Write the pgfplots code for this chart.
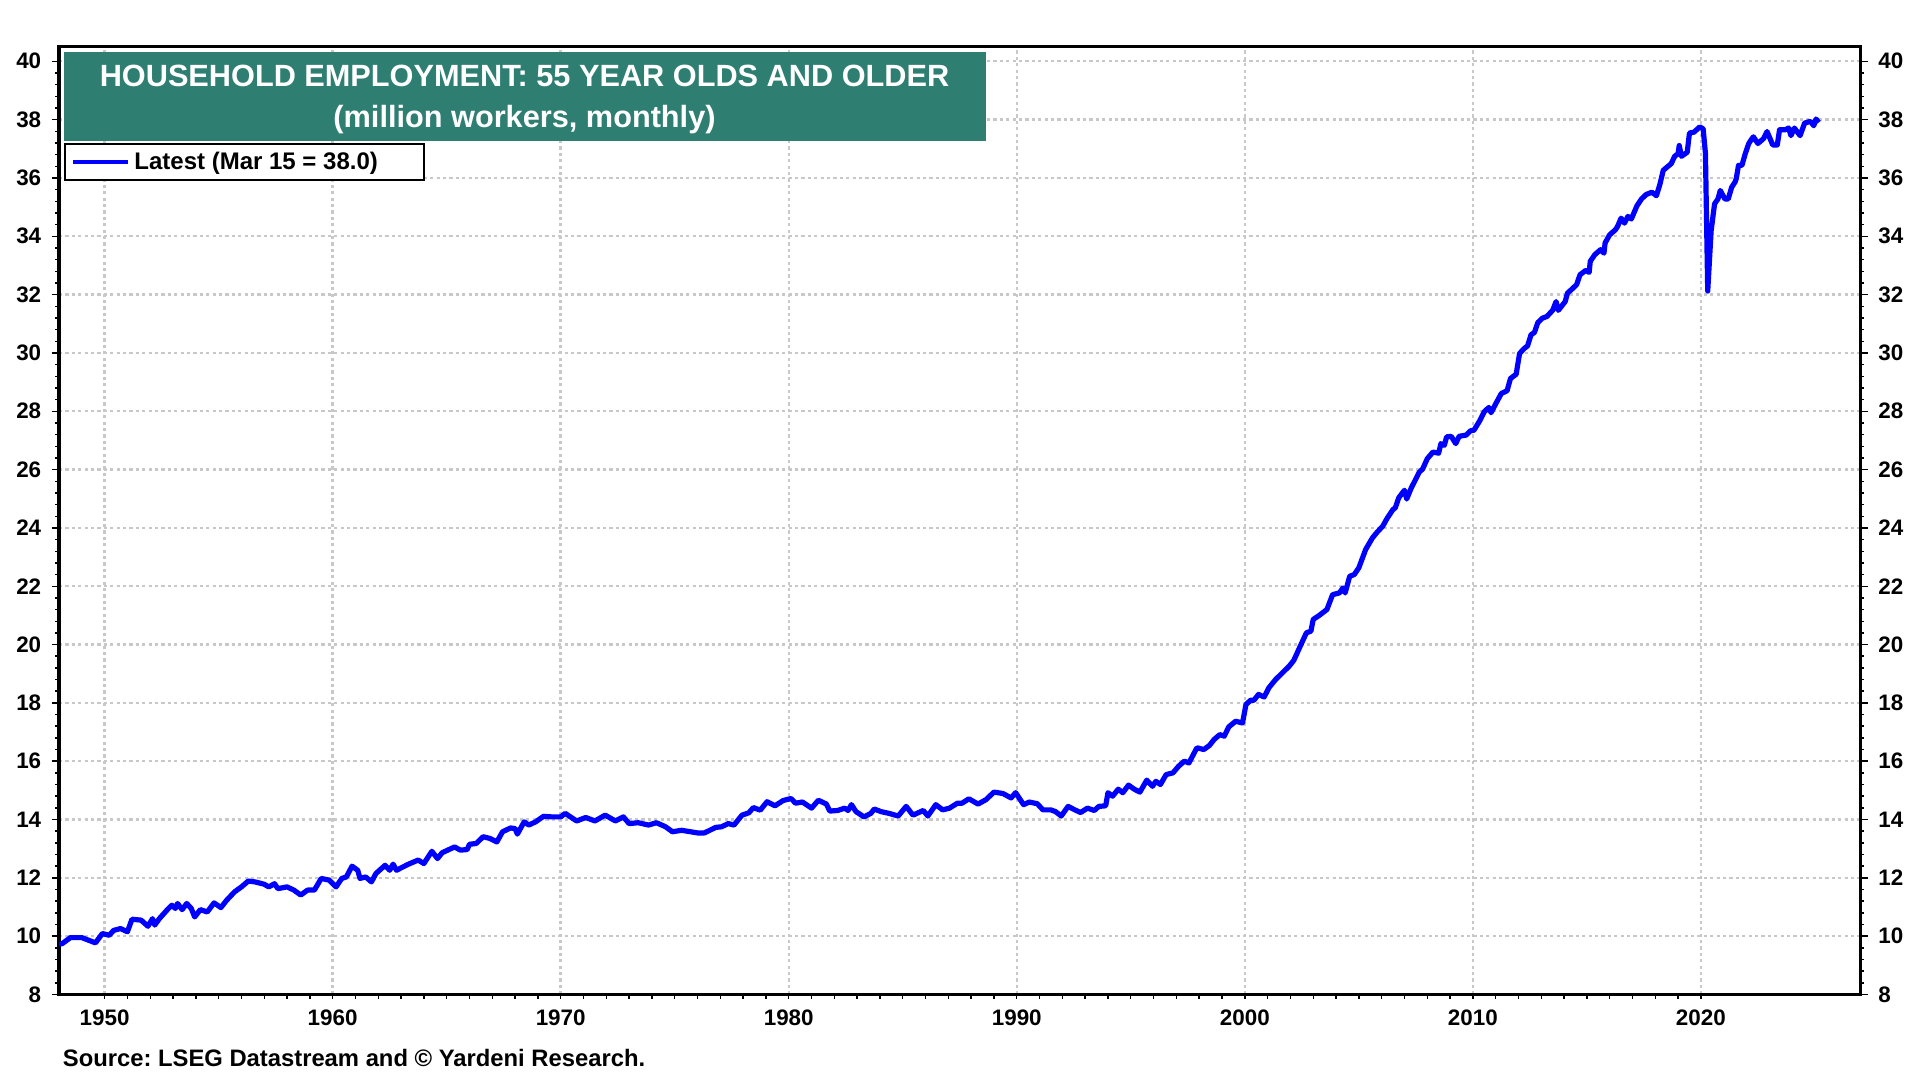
\documentclass[border=0pt]{standalone}
\usepackage{pgfplots}
\usepackage{pgfplotstable}
\pgfplotsset{compat=1.18}
\usepackage{fontspec}
\setmainfont{Liberation Sans}
\frenchspacing
\definecolor{titleteal}{RGB}{46,126,114}
\definecolor{gridgray}{RGB}{200,200,200}
\definecolor{lineblue}{RGB}{0,0,255}

\pgfplotstableread{
x y
1948.0 9.72
1948.15 9.75
1948.5 9.95
1949.0 9.95
1949.3 9.86
1949.6 9.77
1949.9 10.09
1950.2 10.03
1950.4 10.2
1950.7 10.26
1951.0 10.15
1951.2 10.58
1951.6 10.55
1951.9 10.34
1952.1 10.6
1952.2 10.38
1952.4 10.6
1952.8 10.95
1952.95 11.06
1953.1 10.95
1953.2 11.12
1953.4 10.91
1953.6 11.12
1953.8 10.95
1953.95 10.66
1954.2 10.91
1954.5 10.83
1954.8 11.14
1955.1 10.98
1955.35 11.23
1955.7 11.52
1956.0 11.69
1956.3 11.89
1956.6 11.86
1957.0 11.78
1957.2 11.69
1957.45 11.8
1957.6 11.63
1958.0 11.69
1958.3 11.58
1958.6 11.41
1958.9 11.58
1959.2 11.58
1959.5 11.98
1959.85 11.92
1960.15 11.69
1960.4 11.98
1960.6 12.03
1960.85 12.4
1961.1 12.26
1961.2 11.98
1961.45 12.03
1961.7 11.86
1961.9 12.15
1962.3 12.43
1962.5 12.26
1962.65 12.47
1962.8 12.26
1963.3 12.46
1963.75 12.61
1964.0 12.49
1964.35 12.91
1964.6 12.66
1964.8 12.86
1965.1 12.97
1965.35 13.06
1965.6 12.95
1965.9 12.97
1966.0 13.15
1966.3 13.18
1966.6 13.41
1966.9 13.35
1967.2 13.23
1967.45 13.58
1967.8 13.71
1968.0 13.69
1968.1 13.5
1968.4 13.92
1968.6 13.81
1968.9 13.92
1969.25 14.11
1969.6 14.09
1970.0 14.09
1970.2 14.21
1970.7 13.95
1971.1 14.07
1971.5 13.95
1971.95 14.15
1972.4 13.95
1972.75 14.09
1973.0 13.86
1973.4 13.89
1973.85 13.81
1974.2 13.89
1974.6 13.75
1974.9 13.58
1975.3 13.63
1975.7 13.58
1976.0 13.54
1976.3 13.54
1976.8 13.73
1977.05 13.75
1977.35 13.86
1977.6 13.81
1977.95 14.15
1978.25 14.23
1978.45 14.41
1978.75 14.32
1979.05 14.61
1979.4 14.47
1979.75 14.65
1980.1 14.72
1980.3 14.56
1980.6 14.6
1981.0 14.39
1981.3 14.66
1981.65 14.53
1981.8 14.29
1982.15 14.31
1982.45 14.39
1982.6 14.31
1982.75 14.51
1982.95 14.27
1983.3 14.09
1983.6 14.21
1983.75 14.36
1984.05 14.27
1984.4 14.21
1984.8 14.12
1985.15 14.45
1985.45 14.15
1985.9 14.31
1986.1 14.12
1986.45 14.51
1986.75 14.33
1987.05 14.39
1987.4 14.56
1987.6 14.56
1987.9 14.71
1988.3 14.53
1988.65 14.68
1989.0 14.94
1989.4 14.89
1989.75 14.74
1989.95 14.92
1990.3 14.51
1990.55 14.6
1990.9 14.54
1991.15 14.33
1991.5 14.33
1991.7 14.27
1991.95 14.12
1992.25 14.45
1992.55 14.33
1992.8 14.24
1993.1 14.39
1993.4 14.31
1993.6 14.45
1993.9 14.47
1994.0 14.92
1994.2 14.8
1994.45 15.04
1994.65 14.92
1994.9 15.18
1995.15 15.04
1995.4 14.94
1995.7 15.35
1995.95 15.14
1996.1 15.31
1996.3 15.2
1996.55 15.54
1996.85 15.6
1997.1 15.83
1997.35 16.0
1997.55 15.94
1997.9 16.46
1998.2 16.4
1998.45 16.54
1998.65 16.74
1998.9 16.91
1999.1 16.86
1999.3 17.18
1999.6 17.37
1999.9 17.31
2000.05 17.94
2000.25 18.09
2000.4 18.09
2000.6 18.29
2000.85 18.2
2001.05 18.51
2001.35 18.8
2001.65 19.03
2001.95 19.26
2002.15 19.46
2002.4 19.89
2002.7 20.4
2002.9 20.46
2003.0 20.86
2003.25 20.99
2003.6 21.2
2003.85 21.71
2004.15 21.77
2004.3 21.94
2004.4 21.77
2004.6 22.34
2004.8 22.4
2005.0 22.63
2005.3 23.26
2005.6 23.66
2005.8 23.85
2006.05 24.06
2006.25 24.34
2006.5 24.63
2006.6 24.69
2006.75 25.03
2007.0 25.29
2007.1 24.99
2007.3 25.37
2007.45 25.6
2007.65 25.91
2007.8 26.02
2008.0 26.37
2008.25 26.6
2008.5 26.56
2008.6 26.89
2008.75 26.83
2008.85 27.12
2009.05 27.14
2009.25 26.89
2009.4 27.14
2009.7 27.18
2009.9 27.33
2010.05 27.35
2010.3 27.67
2010.5 27.98
2010.7 28.13
2010.8 27.95
2011.0 28.25
2011.25 28.61
2011.5 28.7
2011.65 29.12
2011.9 29.27
2012.05 29.98
2012.25 30.15
2012.4 30.24
2012.55 30.62
2012.7 30.7
2012.85 31.04
2013.05 31.19
2013.25 31.25
2013.5 31.46
2013.65 31.76
2013.75 31.46
2014.05 31.76
2014.15 32.05
2014.35 32.19
2014.55 32.34
2014.7 32.68
2014.95 32.83
2015.1 32.76
2015.15 33.14
2015.35 33.37
2015.6 33.54
2015.75 33.42
2015.8 33.77
2016.0 34.05
2016.25 34.22
2016.35 34.34
2016.5 34.62
2016.65 34.45
2016.8 34.68
2016.95 34.59
2017.2 35.05
2017.4 35.28
2017.6 35.43
2017.85 35.51
2018.05 35.39
2018.2 35.77
2018.35 36.26
2018.5 36.36
2018.7 36.49
2018.85 36.74
2019.0 36.83
2019.05 37.11
2019.15 36.74
2019.4 36.88
2019.5 37.54
2019.7 37.57
2019.95 37.75
2020.1 37.68
2020.2 36.84
2020.3 32.12
2020.45 34.19
2020.6 35.11
2020.75 35.28
2020.85 35.57
2021.05 35.28
2021.2 35.28
2021.35 35.68
2021.5 35.86
2021.55 35.97
2021.65 36.43
2021.8 36.43
2021.95 36.84
2022.1 37.18
2022.2 37.3
2022.3 37.41
2022.5 37.18
2022.75 37.35
2022.9 37.59
2023.0 37.41
2023.15 37.13
2023.35 37.13
2023.45 37.65
2023.7 37.65
2023.85 37.71
2023.95 37.45
2024.1 37.71
2024.35 37.45
2024.55 37.88
2024.8 37.94
2024.95 37.79
2025.05 38.02
2025.17 37.9
}\datatable

\pgfplotsset{
  commonaxis/.style={
    at={(29.5pt,42.75pt)}, anchor=south west,
    width=900.75pt, height=473.9pt, scale only axis,
    xmin=1948, xmax=2027, ymin=8, ymax=40.5,
    tick align=outside,
    ticklabel style={font=\bfseries\fontsize{11.2}{13}\selectfont},
    /pgf/number format/assume math mode=true,
    /pgf/number format/1000 sep={},
  }
}

\begin{document}
\begin{tikzpicture}
\path[use as bounding box, fill=white] (0,0) rectangle (960pt,540pt);

% main axis: grid, data, x ticks
\begin{axis}[
  commonaxis,
  axis line style={line width=1.7pt},
  xtick={1950,1960,...,2020}, minor x tick num=9,
  xtick pos=bottom,
  major tick length=2.2pt, minor tick length=2.2pt,
  every tick/.style={black, line width=0.7pt},
  xticklabel style={anchor=north, inner sep=0pt, yshift=-5.5pt},
  ytick={8,10,...,40}, yticklabels={}, ytick style={draw=none},
  xmajorgrids, ymajorgrids,
  major grid style={gridgray, line width=1.2pt, dash pattern=on 1.6pt off 1.6pt},
  legend style={at={(rel axis cs:0.0028,0.898)}, anchor=north west,
    draw=black, line width=1pt, fill=white,
    font=\bfseries\fontsize{12}{14}\selectfont,
    inner xsep=3pt, inner ysep=1.8pt},
  legend cell align=left,
  legend image code/.code={\draw[#1, line width=2.2pt] (0pt,0pt) -- (27.5pt,0pt);},
]
\addplot[lineblue, line width=2.6pt, line join=round] table[x=x, y=y] {\datatable};
\addlegendentry{Latest (Mar 15 = 38.0)\hspace*{18pt}}

\node[fill=titleteal, anchor=north west, minimum width=461.25pt, minimum height=44.6pt, inner sep=0pt]
  at (rel axis cs:0.0025,0.9949) {};
\node[anchor=base, text=white, inner sep=0pt, font=\bfseries\fontsize{15.35}{18}\selectfont]
  at (rel axis cs:0.2584,0.9575) {HOUSEHOLD EMPLOYMENT: 55 YEAR OLDS AND OLDER};
\node[anchor=base, text=white, inner sep=0pt, font=\bfseries\fontsize{15.35}{18}\selectfont]
  at (rel axis cs:0.2584,0.9145) {(million workers, monthly)};
\end{axis}

% left y ticks
\begin{axis}[
  commonaxis,
  hide x axis,
  axis line style={draw=none},
  ytick={8,10,...,40}, minor y tick num=4,
  ytick pos=left,
  major tick length=3.7pt, minor tick length=1.8pt,
  every tick/.style={black, line width=0.7pt},
  yticklabel style={anchor=east, inner sep=0pt, xshift=-5pt},
]
\end{axis}

% right y ticks
\begin{axis}[
  commonaxis,
  hide x axis,
  axis line style={draw=none},
  ytick={8,10,...,40}, minor y tick num=4,
  ytick pos=right, yticklabel pos=right,
  major tick length=3.7pt, minor tick length=1.8pt,
  every tick/.style={black, line width=0.7pt},
  yticklabel style={anchor=west, inner sep=0pt, xshift=5pt},
]
\end{axis}

\node[anchor=base west, inner sep=0pt, font=\bfseries\fontsize{11.9}{14}\selectfont]
  at (31.25pt,6.5pt) {Source: LSEG Datastream and \textcopyright{} Yardeni Research.};
\end{tikzpicture}
\end{document}
